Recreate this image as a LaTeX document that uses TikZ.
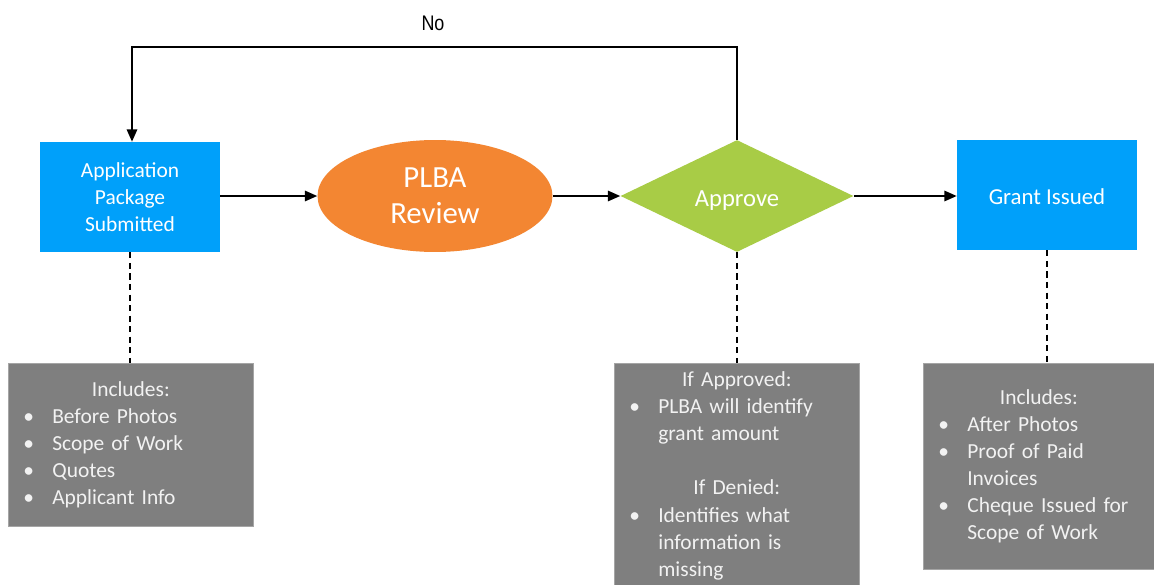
\documentclass[tikz,border=0pt]{standalone}
\usepackage{fontspec}
\setmainfont{Carlito}
\newfontfamily\narrowfont[FakeStretch=0.85]{Liberation Sans}
\usetikzlibrary{shapes.geometric,arrows.meta}
\definecolor{boxblue}{RGB}{0,160,250}
\definecolor{revorange}{RGB}{243,134,50}
\definecolor{appgreen}{RGB}{168,204,70}
\definecolor{notegray}{RGB}{127,127,127}
\definecolor{notetext}{RGB}{242,242,242}
% bullet line: bullet near 0.3cm, text at 0.88cm
\newcommand\bul[1]{\par\noindent\hangindent=0.88cm\hangafter=1\hspace*{0.3cm}\makebox[0.58cm][l]{\textbullet}#1\par}
\newcommand\nl{\hfil\break}
\newcommand\headline[1]{{\centering #1\par}}
\tikzset{
  stepbox/.style={rectangle, fill=boxblue, text=white, minimum width=3.6cm, minimum height=2.2cm, align=center, inner sep=0pt},
  notebox/.style={rectangle, fill=notegray, draw=notegray!70!white, line width=0.4pt, text=notetext, align=left, inner sep=0pt, anchor=north west},
  link/.style={->, line width=0.8pt},
  tie/.style={line width=0.6pt, dash pattern=on 3.5pt off 2.5pt},
}
\begin{document}
\begin{tikzpicture}[x=.02cm, y=-.02cm, >={Triangle[length=7pt,width=6pt]}, font=\fontsize{12.2}{15.4}\selectfont]
    \useasboundingbox[fill=white] (0,0) rectangle (1154,585);
    % main row
    \node[stepbox] (app) at (130,197) {Application\\Package\\Submitted};
    \node[ellipse, fill=revorange, text=white, minimum width=4.7cm, minimum height=2.24cm, inner sep=0pt, align=center,
          font=\fontsize{17.5}{20.5}\selectfont] (review) at (435,196) {PLBA\\Review};
    \node[diamond, fill=appgreen, text=white, minimum width=4.66cm, minimum height=2.24cm, aspect=2.08, inner sep=0pt,
          text height=12.5pt, text depth=0pt, font=\fontsize{14}{16}\selectfont] (approve) at (737,196) {Approve};
    \node[stepbox, text height=11pt, text depth=0pt, font=\fontsize{13}{16}\selectfont] (grant) at (1047,195) {Grant Issued};
    \draw[link] (app.east |- review) -- (review);
    \draw[link] (review) -- (approve);
    \draw[link] (approve) -- (grant.west |- approve);
    % loop back
    \coordinate (turnR) at (737,47);
    \coordinate (turnL) at (132,47);
    \draw[link] (approve.north) -- (turnR) -- (turnL) -- (app.north -| turnL);
    \node[font=\narrowfont\fontsize{12}{14}\selectfont] (no) at (433,23) {No};
    % notes
    \node[notebox, text width=4.9cm, minimum height=3.26cm] (noteA) at (8,363)
      {\headline{Includes:}\bul{Before Photos}\bul{Scope of Work}\bul{Quotes}\bul{Applicant Info}};
    \node[notebox, text width=4.9cm, minimum height=4.5cm] (noteB) at (614,363)
      {\headline{If Approved:}\bul{PLBA will identify\nl grant amount}\vspace{15.4pt}%
       \headline{If Denied:}\bul{Identifies what\nl information is\nl missing}};
    \node[notebox, text width=4.62cm, minimum height=4.12cm] (noteC) at (923,363)
      {\vspace{0pt}\headline{Includes:}\bul{After Photos}\bul{Proof of Paid\nl Invoices}\bul{Cheque Issued for\nl Scope of Work}};
    \draw[tie] (app.south) -- (app.south |- noteA.north);
    \draw[tie] (approve.south) -- (approve.south |- noteB.north);
    \draw[tie] (grant.south) -- (grant.south |- noteC.north);
\end{tikzpicture}
\end{document}
